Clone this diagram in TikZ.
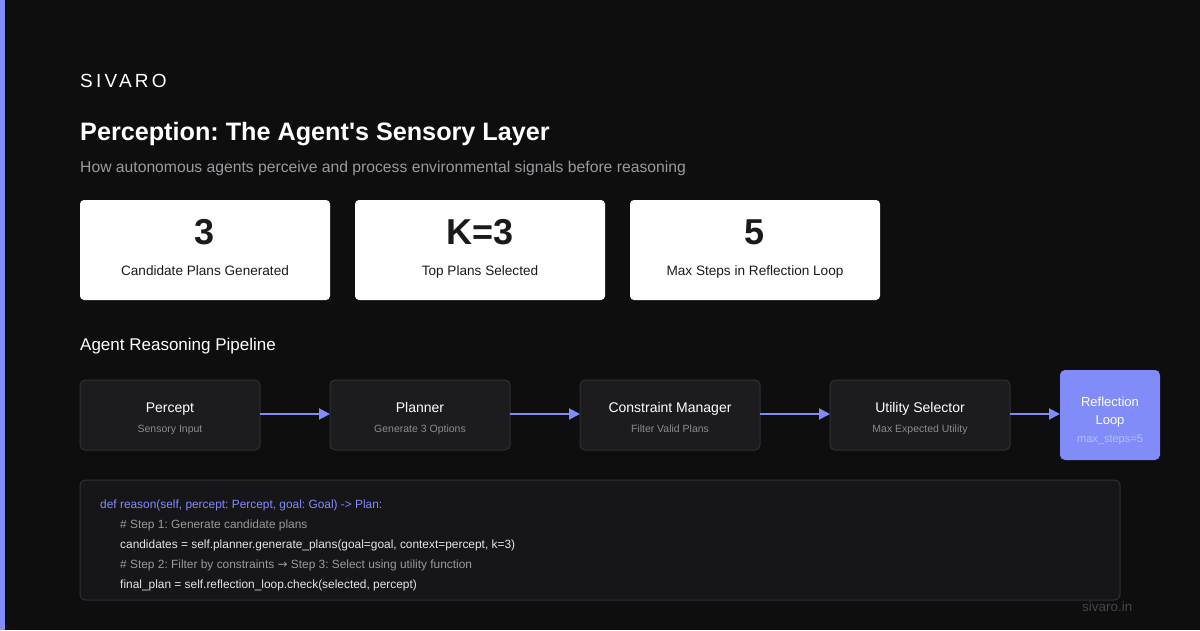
\documentclass[tikz,border=0pt]{standalone}
\usepackage{fontspec}
\setmainfont{Liberation Sans}
\newfontfamily\symfont{DejaVu Sans}
\usetikzlibrary{arrows.meta}
\frenchspacing
\definecolor{bg}{HTML}{0E0E0F}
\definecolor{accent}{HTML}{818CF8}
\definecolor{boxfill}{HTML}{1C1C1F}
\definecolor{boxline}{HTML}{303035}
\definecolor{codefill}{HTML}{161618}
\definecolor{subgray}{HTML}{9A9AA0}
\definecolor{dimgray}{HTML}{8A8A90}
\definecolor{codewhite}{HTML}{E6E6E8}
\definecolor{cardtext}{HTML}{1A1A1A}
\definecolor{reflsub}{HTML}{B8BEFB}
\definecolor{footgray}{HTML}{45454A}
\tikzset{
  x=1pt, y=-1pt,
  txt/.style={anchor=base west, inner sep=0pt, text=white},
  card/.style={fill=white, rounded corners=4pt, draw=none},
  pipebox/.style={fill=boxfill, draw=boxline, line width=1pt, rounded corners=5pt},
  pipetitle/.style={anchor=base, inner sep=0pt, text=white, font=\fontsize{14}{16}\selectfont},
  pipesub/.style={anchor=base, inner sep=0pt, text=dimgray, font=\fontsize{10.5}{12}\selectfont},
  flow/.style={draw=accent, line width=2pt, -{Triangle[length=11pt,width=11pt]}},
  statnum/.style={anchor=base, inner sep=0pt, text=cardtext, font=\fontsize{36}{40}\selectfont\bfseries},
  statlab/.style={anchor=base, inner sep=0pt, text=cardtext, font=\fontsize{13.6}{15}\selectfont},
  codeline/.style={anchor=base west, inner sep=0pt, font=\fontsize{11.9}{13}\selectfont},
}
\begin{document}
\begin{tikzpicture}
\useasboundingbox (0,0) rectangle (1200,630);
\fill[bg] (0,0) rectangle (1200,630);
\fill[accent] (0,0) rectangle (5,630);

% header
\node[txt, font=\fontsize{19}{22}\selectfont\addfontfeatures{LetterSpace=17}] (brand) at (80,87) {SIVARO};
\node[txt, font=\fontsize{25.2}{30}\selectfont\bfseries] (title) at (80,140) {Perception: The Agent\textquotesingle s Sensory Layer};
\node[txt, text=subgray, font=\fontsize{15.7}{18}\selectfont] (subtitle) at (80,172) {How autonomous agents perceive and process environmental signals before reasoning};

% stat cards
\path[card] (80,200) rectangle (330,300);
\path[card] (355,200) rectangle (605,300);
\path[card] (630,200) rectangle (880,300);
\node[statnum] (n1) at (205,244.5) {3};
\node[statlab] (l1) at (205,275) {Candidate Plans Generated};
\node[statnum] (n2) at (480,244.5) {K=3};
\node[statlab] (l2) at (480,275) {Top Plans Selected};
\node[statnum] (n3) at (755,244.5) {5};
\node[statlab] (l3) at (755,275) {Max Steps in Reflection Loop};

% pipeline heading
\node[txt, font=\fontsize{17}{20}\selectfont] (pipehead) at (80,350) {Agent Reasoning Pipeline};

% pipeline boxes
\path[pipebox] (80,380) rectangle (260,450);
\path[pipebox] (330,380) rectangle (510,450);
\path[pipebox] (580,380) rectangle (760,450);
\path[pipebox] (830,380) rectangle (1010,450);
\path[fill=accent, rounded corners=5pt] (1060,370) rectangle (1160,460);
\coordinate (p1r) at (260,414); \coordinate (p2l) at (330,414);
\coordinate (p2r) at (510,414); \coordinate (p3l) at (580,414);
\coordinate (p3r) at (760,414); \coordinate (p4l) at (830,414);
\coordinate (p4r) at (1010,414); \coordinate (p5l) at (1060,414);

\node[pipetitle] (t1) at (170,412) {Percept};
\node[pipesub] (s1) at (170,432) {Sensory Input};
\node[pipetitle] (t2) at (420,412) {Planner};
\node[pipesub] (s2) at (420,432) {Generate 3 Options};
\node[pipetitle] (t3) at (670,412) {Constraint Manager};
\node[pipesub] (s3) at (670,432) {Filter Valid Plans};
\node[pipetitle] (t4) at (920,412) {Utility Selector};
\node[pipesub] (s4) at (920,432) {Max Expected Utility};
\node[anchor=base, inner sep=0pt, text=white, font=\fontsize{13}{15}\selectfont] (t5a) at (1110,406.5) {Reflection};
\node[anchor=base, inner sep=0pt, text=white, font=\fontsize{13}{15}\selectfont] (t5b) at (1110,424.5) {Loop};
\node[anchor=base, inner sep=0pt, text=reflsub, font=\fontsize{11}{13}\selectfont] (s5) at (1110,442) {max\_steps=5};

\draw[flow] (p1r) -- (p2l);
\draw[flow] (p2r) -- (p3l);
\draw[flow] (p3r) -- (p4l);
\draw[flow] (p4r) -- (p5l);

% code block
\path[fill=codefill, draw=boxline, line width=1pt, rounded corners=6pt] (80,480) rectangle (1120,600);
\node[codeline, text=accent] (c1) at (100,508) {def reason(self, percept: Percept, goal: Goal) -> Plan:};
\node[codeline, text=subgray] (c2) at (120,528) {\# Step 1: Generate candidate plans};
\node[codeline, text=codewhite] (c3) at (120,548) {candidates = self.planner.generate\_plans(goal=goal, context=percept, k=3)};
\node[codeline, text=subgray] (c4) at (120,568) {\# Step 2: Filter by constraints {\symfont→} Step 3: Select using utility function};
\node[codeline, text=codewhite] (c5) at (120,588) {final\_plan = self.reflection\_loop.check(selected, percept)};

% footer
\node[txt, text=footgray, font=\fontsize{13.5}{15}\selectfont] (foot) at (1082,611.5) {sivaro.in};
\end{tikzpicture}
\end{document}
